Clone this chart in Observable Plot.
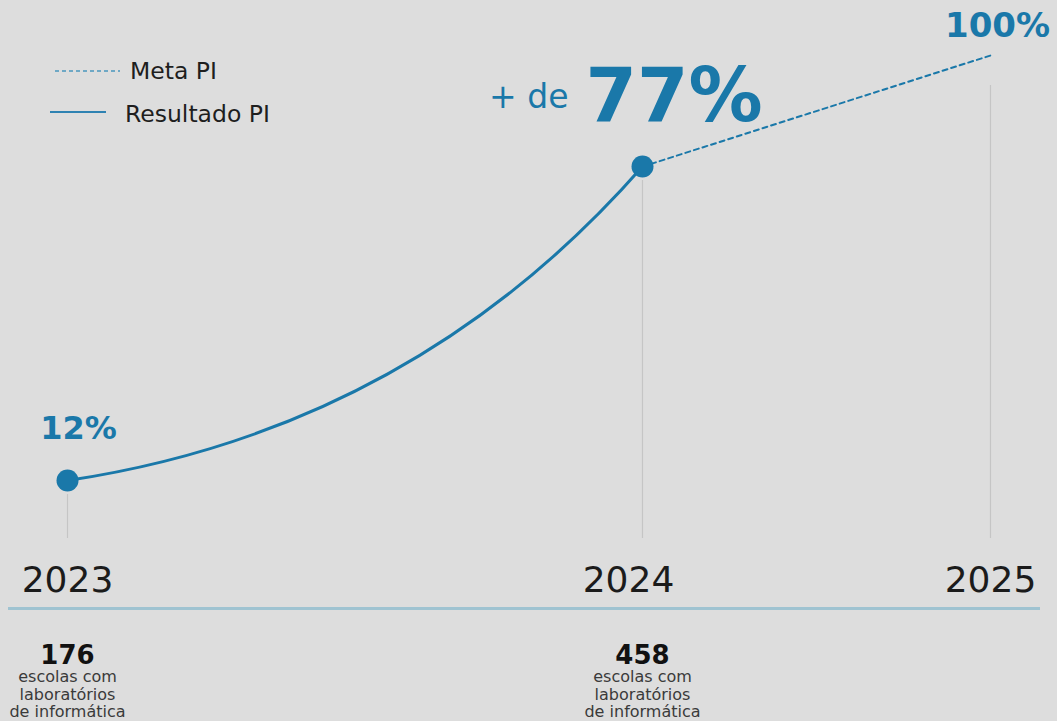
<!DOCTYPE html>
<html>
<head>
<meta charset="utf-8">
<script src="https://cdn.jsdelivr.net/npm/d3@7"></script>
<script src="https://cdn.jsdelivr.net/npm/@observablehq/plot@0.6"></script>
<style>
  html, body { margin: 0; padding: 0; background: #dddddd; }
  #wrap { position: relative; width: 1057px; height: 721px; overflow: hidden; background: #dddddd; }
  #legend { position: absolute; left: 0; top: 0; }
  #chart svg { display: block; }
</style>
</head>
<body>
<div id="wrap">
  <div id="chart"></div>
  <svg id="legend" width="320" height="140" font-family="DejaVu Sans">
    <line x1="55" x2="120" y1="71" y2="71" stroke="#6ea8c5" stroke-width="2" stroke-dasharray="4,3"></line>
    <text x="130" y="79" font-size="23.5" fill="#1e1e1e">Meta PI</text>
    <line x1="50" x2="106" y1="112" y2="112" stroke="#2f82b2" stroke-width="2"></line>
    <text x="125" y="122" font-size="23.5" fill="#1e1e1e">Resultado PI</text>
  </svg>
</div>
<script>
// ---- data ----
const years = [2023, 2024, 2025];
const resultadoYears = [2023, 2024];
const resultadoPct = [12, 77];
const metaYears = [2024, 2025];
const metaPct = [77, 100];
const escolasYears = [2023, 2024];
const escolasCount = [176, 458];
const escolasText = "escolas com\nlaboratórios\nde informática";
const pctLabels = ["12%", "77%", "100%"];

// ---- tables ----
const resultado = resultadoYears.map((y, i) => ({year: y, pct: resultadoPct[i]}));
const meta = metaYears.map((y, i) => ({year: y, pct: metaPct[i]}));
const escolas = escolasYears.map((y, i) => ({year: y, n: escolasCount[i]}));
const guides = [...resultado, meta[meta.length - 1]];

const blue = "#1a78a9";

// custom growth curve (style only): quadratic bezier between consecutive points
function curveGrowth(context) {
  let pts = [];
  return {
    areaStart() {}, areaEnd() {},
    lineStart() { pts = []; },
    point(x, y) { pts.push([+x, +y]); },
    lineEnd() {
      if (!pts.length) return;
      context.moveTo(pts[0][0], pts[0][1]);
      for (let i = 1; i < pts.length; i++) {
        const [x0, y0] = pts[i - 1], [x1, y1] = pts[i];
        context.quadraticCurveTo(x0 + 0.6 * (x1 - x0), y0 + 0.165 * (y1 - y0), x1, y1);
      }
    }
  };
}

const axisStyle = {tickFormat: d => String(d), tickSize: 0, tickPadding: 28, fontSize: 36, fill: "#1b1b1b", label: null};

const W = 1057, H = 721;
const chart = Plot.plot({
  width: W,
  height: H,
  marginTop: 55,
  marginBottom: 183,
  marginLeft: 8,
  marginRight: 17,
  style: {background: "transparent", fontFamily: "DejaVu Sans", overflow: "visible"},
  x: {type: "linear", domain: years, range: [67, 642, 990], label: null},
  y: {type: "linear", domain: [0, 100], axis: null},
  marks: [
    // vertical guides
    Plot.ruleX(guides.slice(0, 2), {x: "year", y1: "pct", y2: () => 0, insetTop: 14, stroke: "#c5c5c5", strokeWidth: 1.2}),
    Plot.ruleX(guides.slice(2), {x: "year", y1: "pct", y2: () => 0, insetTop: 30, stroke: "#c5c5c5", strokeWidth: 1.2}),
    // baseline
    Plot.ruleY([0], {dy: 70, stroke: "#9fc3d1", strokeWidth: 3}),
    // target (dashed)
    Plot.line(meta, {x: "year", y: "pct", stroke: blue, strokeWidth: 2, strokeDasharray: "5,4"}),
    // result (curve)
    Plot.line(resultado, {x: "year", y: "pct", stroke: blue, strokeWidth: 3, curve: curveGrowth}),
    Plot.dot(resultado, {x: "year", y: "pct", r: 11, fill: blue}),
    // value labels
    Plot.text(resultado.slice(0, 1), {x: "year", y: "pct", text: () => pctLabels[0], dx: 11, dy: -42, lineAnchor: "bottom", fontSize: 32, fontWeight: "bold", fill: blue}),
    Plot.text(resultado.slice(1, 2), {x: "year", y: "pct", text: () => "+ de", textAnchor: "end", dx: -74, dy: -59, lineAnchor: "bottom", fontSize: 33, fill: blue}),
    Plot.text(resultado.slice(1, 2), {x: "year", y: "pct", text: () => pctLabels[1], textAnchor: "start", dx: -57, dy: -46, lineAnchor: "bottom", fontSize: 74, fontWeight: "bold", fill: blue}),
    Plot.text(meta.slice(1), {x: "year", y: "pct", text: () => pctLabels[2], dx: 7, dy: -19, lineAnchor: "bottom", fontSize: 34, fontWeight: "bold", fill: blue}),
    // years axis
    Plot.axisX({...axisStyle, ticks: [years[0], years[2]]}),
    Plot.axisX({...axisStyle, ticks: [years[1]], dx: -14}),
    // school counts
    Plot.text(escolas, {x: "year", y: () => 0, text: d => String(d.n), dy: 125, lineAnchor: "bottom", fontSize: 26, fontWeight: "bold", fill: "#111111"}),
    Plot.text(escolas, {x: "year", y: () => 0, text: () => escolasText, dy: 131, lineAnchor: "top", lineHeight: 1.1, fontSize: 16, fill: "#3a3a3a"})
  ]
});
document.getElementById("chart").appendChild(chart);
</script>
</body>
</html>
